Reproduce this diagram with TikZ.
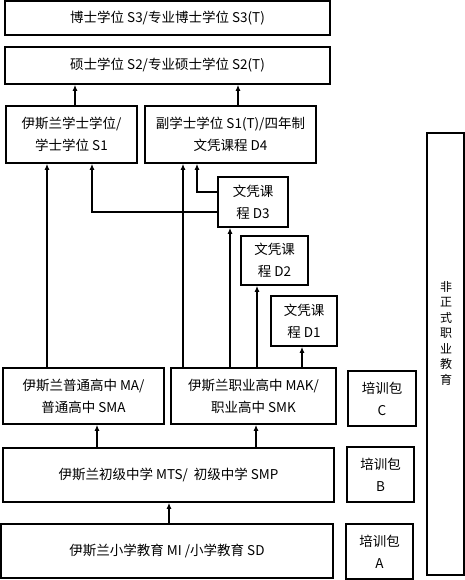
\documentclass[tikz,border=0pt]{standalone}
\usepackage{fontspec}
\usepackage{tikz}
\usetikzlibrary{arrows.meta,positioning,calc}
\newfontfamily\cjk{Noto Sans CJK SC}
\tikzset{
  bx/.style={draw,line width=1.6pt,inner sep=0pt,align=center,font=\cjk\fontsize{13.5}{22}\selectfont},
  up/.style={line width=1.4pt,-{Latex[length=6pt,width=5pt]}},
}

\begin{document}
\begin{tikzpicture}[x=1pt,y=-1pt]
  \useasboundingbox (0,0) rectangle (465,580);
  % higher education
  \node[bx,minimum width=325,minimum height=34] (s3) at (167.5,18) {博士学位 S3/专业博士学位 S3(T)};
  \node[bx,minimum width=325,minimum height=37] (s2) at (167.5,65.5) {硕士学位 S2/专业硕士学位 S2(T)};
  \node[bx,minimum width=131,minimum height=57] (s1) at (71.5,134.5) {伊斯兰学士学位/\\学士学位 S1};
  \node[bx,minimum width=171,minimum height=57] (d4) at (230.5,134.5) {副学士学位 S1(T)/四年制\\文凭课程 D4};
  \node[bx,minimum width=70,minimum height=50] (d3) at (253,202) {文凭课\\程 D3};
  \node[bx,minimum width=67,minimum height=49] (d2) at (274.5,260.5) {文凭课\\程 D2};
  \node[bx,minimum width=66,minimum height=50] (d1) at (304,321) {文凭课\\程 D1};
  % schools
  \node[bx,minimum width=161,minimum height=56] (ma) at (83.5,396) {伊斯兰普通高中 MA/\\普通高中 SMA};
  \node[bx,minimum width=165,minimum height=56] (mak) at (253.5,396) {伊斯兰职业高中 MAK/\\职业高中 SMK};
  \node[bx,minimum width=331,minimum height=54] (mts) at (168.5,475) {伊斯兰初级中学 MTS/\ \ 初级中学 SMP};
  \node[bx,minimum width=332,minimum height=54] (mi) at (167,551) {伊斯兰小学教育 MI /小学教育 SD};
  % training packages
  \node[bx,minimum width=68,minimum height=55] (pc) at (382,398.5) {培训包\\C};
  \node[bx,minimum width=67,minimum height=55] (pb) at (380.5,474.5) {培训包\\B};
  \node[bx,minimum width=67,minimum height=55] (pa) at (379.5,551.5) {培训包\\A};
  % non-formal
  \node[bx,minimum width=37,minimum height=442] (nf) at (445.5,354) {};
  \node[align=center,inner sep=0pt,font=\cjk\fontsize{12}{15.5}\selectfont] (nft) at (446,333)
    {非\\正\\式\\职\\业\\教\\育};

  \draw[up] ([xshift=3.5pt]s1.north) -- ([xshift=3.5pt]s1.north |- s2.south);
  \draw[up] ([xshift=7.5pt]d4.north) -- ([xshift=7.5pt]d4.north |- s2.south);
  \draw[up] ([xshift=-36.5pt]ma.north) -- ([xshift=-36.5pt]ma.north |- s1.south);
  \draw[up] ([yshift=-10pt]d3.west) -| ([xshift=20.5pt]s1.south);
  \draw[up] ([yshift=10pt]d3.west) -| ([xshift=-33.5pt]d4.south);
  \draw[up] ([xshift=-70.5pt]mak.north) -- ([xshift=-70.5pt]mak.north |- d4.south);
  \draw[up] ([xshift=-23.5pt]mak.north) -- ([xshift=-23.5pt]mak.north |- d3.south);
  \draw[up] ([xshift=3.5pt]mak.north) -- ([xshift=3.5pt]mak.north |- d2.south);
  \draw[up] ([xshift=48.5pt]mak.north) -- ([xshift=48.5pt]mak.north |- d1.south);
  \draw[up] ([xshift=-71.5pt]mts.north) -- ([xshift=-71.5pt]mts.north |- ma.south);
  \draw[up] ([xshift=87.5pt]mts.north) -- ([xshift=87.5pt]mts.north |- mak.south);
  \draw[up] ([xshift=2pt]mi.north) -- ([xshift=2pt]mi.north |- mts.south);
\end{tikzpicture}
\end{document}
